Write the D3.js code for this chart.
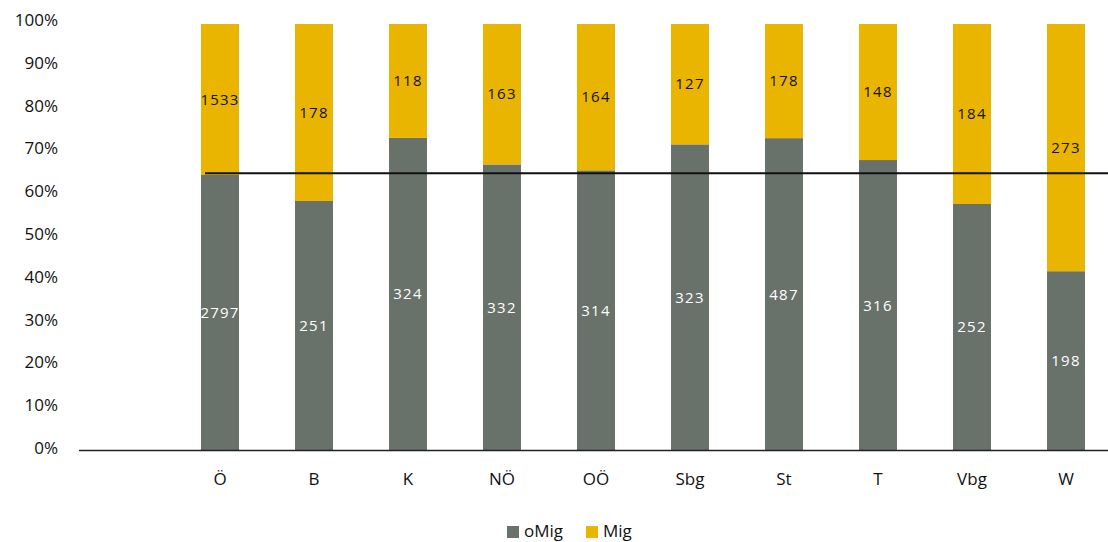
<!DOCTYPE html>
<html><head><meta charset="utf-8">
<script src="https://cdn.jsdelivr.net/npm/d3@7"></script>
<style>body{margin:0;background:#fff;}svg{display:block;font-family:"Open Sans",sans-serif;}</style>
</head><body><svg id="c" width="1108" height="542"></svg>
<script>
const categories = ["", "Ö", "B", "K", "NÖ", "OÖ", "Sbg", "St", "T", "Vbg", "W"];
const oMig = [null, 2797, 251, 324, 332, 314, 323, 487, 316, 252, 198];
const mig  = [null, 1533, 178, 118, 163, 164, 127, 178, 148, 184, 273];
const reference = 0.65;
const yTicks = [0,0.1,0.2,0.3,0.4,0.5,0.6,0.7,0.8,0.9,1];
const seriesNames = ["oMig", "Mig"];
const colors = {oMig: "#68716a", Mig: "#e9b500"};

const svg = d3.select("#c");
const x = d3.scaleBand().domain(categories).range([79, 1113]).paddingInner(0.596).paddingOuter(0.298);
const y = d3.scaleLinear().domain([0,1]).range([450.5, 24]);

const rows = categories.map((c,i)=>({cat:c, oMig:oMig[i], Mig:mig[i]})).filter(d=>d.oMig!=null);
rows.forEach(d=>{ const t=d.oMig+d.Mig; d.pO=d.oMig/t; d.pM=d.Mig/t; });

// y tick labels
const yLab = d3.scaleLinear().domain([0,1]).range([448, 20]);
svg.append("g").selectAll("text").data(yTicks).join("text")
  .attr("x", 58).attr("y", d=>yLab(d)).attr("dy","0.35em").attr("text-anchor","end")
  .attr("font-size", 17).attr("fill","#111").text(d3.format(".0%"));

// bars
const bw = x.bandwidth();
svg.append("g").selectAll("rect.o").data(rows).join("rect")
  .attr("x", d=>x(d.cat)).attr("width", bw).attr("y", d=>y(d.pO)).attr("height", d=>y(0)-y(d.pO))
  .attr("fill", colors.oMig);
svg.append("g").selectAll("rect.m").data(rows).join("rect")
  .attr("x", d=>x(d.cat)).attr("width", bw).attr("y", d=>y(1)).attr("height", d=>y(d.pO)-y(1))
  .attr("fill", colors.Mig);

// labels
svg.append("g").selectAll("text").data(rows).join("text")
  .attr("x", d=>x(d.cat)+bw/2).attr("y", d=>y(d.pO/2)).attr("dy","0.35em")
  .attr("text-anchor","middle").attr("font-size",15).attr("letter-spacing","1.2px").attr("fill","#fff").text(d=>d.oMig);
svg.append("g").selectAll("text").data(rows).join("text")
  .attr("x", d=>x(d.cat)+bw/2).attr("y", d=>y(d.pO + d.pM/2)).attr("dy","0.35em")
  .attr("text-anchor","middle").attr("font-size",15).attr("letter-spacing","1.2px").attr("fill","#111").text(d=>d.Mig);

// reference line
svg.append("line").attr("x1", x("Ö")+4).attr("x2", x.range()[1])
  .attr("y1", y(reference)).attr("y2", y(reference)).attr("stroke","#111").attr("stroke-width",2);

// x axis
svg.append("line").attr("x1", x.range()[0]).attr("x2", x.range()[1]).attr("y1", y(0)).attr("y2", y(0))
  .attr("stroke","#222").attr("stroke-width",1.5);
svg.append("g").selectAll("text").data(rows).join("text")
  .attr("x", d=>x(d.cat)+bw/2).attr("y", 479).attr("dy","0.35em").attr("text-anchor","middle")
  .attr("font-size",17).attr("fill","#111").text(d=>d.cat);

// legend
const lg = svg.append("g");
const lx = [507, 586];
seriesNames.forEach((s,i)=>{
  lg.append("rect").attr("x", lx[i]).attr("y", 526).attr("width",12).attr("height",12).attr("fill", colors[s]);
  lg.append("text").attr("x", lx[i]+17).attr("y", 531).attr("dy","0.35em").attr("font-size",17).attr("fill","#111").text(s);
});
</script></body></html>
